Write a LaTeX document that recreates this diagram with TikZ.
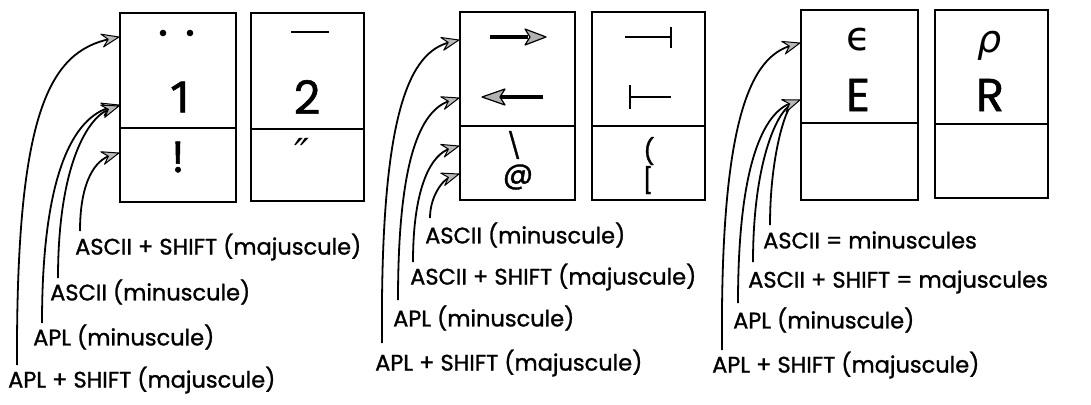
\documentclass[tikz,border=0pt]{standalone}
\usepackage{fontspec}
\setmainfont{Poppins}
\newfontfamily\hand[FakeBold=1.2]{Poppins}
\newfontfamily\digit[FakeBold=1.2]{Fira Sans}
\newfontfamily\grk{DejaVu Sans}
\usetikzlibrary{arrows.meta}
\tikzset{
  keybox/.style={draw, line width=2.2pt, minimum width=#1, inner sep=0pt},
  keybox/.default=114pt,
  divider/.style={line width=1.8pt},
  lbl/.style={anchor=west, inner sep=0pt, font=\hand\fontsize{22.5}{24}\selectfont},
  glyph/.style={inner sep=0pt, font=\hand\fontsize{46}{48}\selectfont},
  mid/.style={inner sep=0pt, font=\hand\fontsize{30}{32}\selectfont},
  tiny/.style={inner sep=0pt, font=\hand\fontsize{25}{27}\selectfont},
  ptr/.style={line width=1.8pt, shorten >=9pt},
  head/.style={fill=gray!60, draw=black, line width=1.2pt, line join=round},
  phead/.pic={\draw[fill=gray!55, draw=black, line width=1pt, line join=round]
     (0,0) -- (-17,6.5) -- (-11,0) -- (-17,-6.5) -- cycle;},
}
\begin{document}
\begin{tikzpicture}[x=1pt,y=-1pt]
\useasboundingbox (0,0) rectangle (1091,404);
% ---------- group 1 ----------
\node[keybox=116pt, minimum height=189pt] (k1) at (178,107.5) {};
\node[keybox=113pt, minimum height=188pt] (k2) at (307.5,107) {};
\draw[divider] (k1.west |- 0,128) -- (k1.east |- 0,128);
\draw[divider] (k2.west |- 0,129) -- (k2.east |- 0,129);
\fill (163,33) circle (3.3pt) (190,33) circle (3.3pt);
\draw[line width=2.8pt] (291,32) -- (329,32);
\node[inner sep=0pt, font=\digit\fontsize{46}{48}\selectfont] (one) at (180,97) {1};
\node[glyph] (two) at (307,97) {2};
\node[glyph, font=\hand\fontsize{44}{46}\selectfont] (excl) at (178,157) {!};
\node[inner sep=0pt, font=\grk\fontsize{40}{42}\selectfont\itshape] (dq) at (302,153) {″};
\node[lbl] (l11) at (75,247) {ASCII + SHIFT (majuscule)};
\node[lbl] (l12) at (50,292) {ASCII (minuscule)};
\node[lbl] (l13) at (33,337) {APL (minuscule)};
\node[lbl] (l14) at (8,380) {APL + SHIFT (majuscule)};
\coordinate (t11) at (80,231);
\coordinate (t12) at (58,278);
\coordinate (t13) at (42,323);
\coordinate (t14) at (17,365);
\coordinate (p14) at (k1.west |- 0,37);
\coordinate (p13) at (k1.west |- 0,105);
\coordinate (p12) at (k1.west |- 0,106);
\coordinate (p11) at (k1.west |- 0,153);
\draw[ptr] (t14) .. controls (16,110) and (50,52) .. (p14);
\draw[ptr] (t13) .. controls (42,170) and (75,117) .. (p13);
\draw[ptr] (t12) .. controls (58,165) and (88,116) .. (p12);
\draw[ptr] (t11) .. controls (80,180) and (96,160) .. (p11);
\pic[rotate=12] at (p14) {phead};
\pic[rotate=15] at (p13) {phead};
\pic[rotate=18] at (p12) {phead};
\pic[rotate=17] at (p11) {phead};
% ---------- group 2 ----------
\node[keybox=115pt, minimum height=188pt] (k3) at (517.5,106) {};
\node[keybox=113pt, minimum height=188pt] (k4) at (648.5,106) {};
\draw[divider] (k3.west |- 0,126) -- (k3.east |- 0,126);
\draw[divider] (k4.west |- 0,126) -- (k4.east |- 0,126);
\draw[line width=4pt] (490,37) -- (528,37);
\draw[head] (546,37) -- (525,29) -- (530,37) -- (525,45) -- cycle;
\draw[line width=4pt] (543,97) -- (500,97);
\draw[head] (482,97) -- (505,89) -- (500,97) -- (505,105) -- cycle;
\draw[line width=2.8pt] (625,37) -- (671,37) (671,27) -- (671,48);
\draw[line width=2.8pt] (630,97) -- (671,97) (630,85) -- (630,109);
\node[tiny] (bs) at (514,145) {\textbackslash};
\node[mid] (at) at (518,177) {@};
\node[tiny] (lp) at (649,151) {(};
\node[tiny] (lb) at (648,180) {[};
\node[lbl] (l21) at (425,235) {ASCII (minuscule)};
\node[lbl] (l22) at (410,277) {ASCII + SHIFT (majuscule)};
\node[lbl] (l23) at (393,318) {APL (minuscule)};
\node[lbl] (l24) at (375,363) {APL + SHIFT (majuscule)};
\coordinate (t21) at (430,218);
\coordinate (t22) at (413,262);
\coordinate (t23) at (398,300);
\coordinate (t24) at (382,343);
\coordinate (p24) at (k3.west |- 0,40);
\coordinate (p23) at (k3.west |- 0,98);
\coordinate (p22) at (k3.west |- 0,146);
\coordinate (p21) at (k3.west |- 0,174);
\draw[ptr] (t24) .. controls (380,110) and (410,52) .. (p24);
\draw[ptr] (t23) .. controls (398,160) and (420,110) .. (p23);
\draw[ptr] (t22) .. controls (413,185) and (432,154) .. (p22);
\draw[ptr] (t21) .. controls (430,197) and (442,180) .. (p21);
\pic[rotate=13] at (p24) {phead};
\pic[rotate=17] at (p23) {phead};
\pic[rotate=16] at (p22) {phead};
\pic[rotate=18] at (p21) {phead};
% ---------- group 3 ----------
\node[keybox=117pt, minimum height=190pt] (k5) at (859.5,105) {};
\node[keybox=113pt, minimum height=188pt] (k6) at (991.5,104) {};
\draw[divider] (k5.west |- 0,123) -- (k5.east |- 0,123);
\draw[divider] (k6.west |- 0,124) -- (k6.east |- 0,124);
\node[inner sep=0pt, font=\grk\fontsize{40}{42}\selectfont] (eps) at (859,40) {ϵ};
\node[glyph] (ee) at (858,95) {E};
\node[inner sep=0pt, font=\grk\fontsize{38}{40}\selectfont\itshape] (rho) at (990,46) {ρ};
\node[glyph] (rr) at (990,95) {R};
\node[lbl] (l31) at (763,240) {ASCII = minuscules};
\node[lbl] (l32) at (748,282) {ASCII + SHIFT = majuscules};
\node[lbl] (l33) at (733,320) {APL (minuscule)};
\node[lbl] (l34) at (712,365) {APL + SHIFT (majuscule)};
\coordinate (t31) at (770,225);
\coordinate (t32) at (753,262);
\coordinate (t33) at (738,303);
\coordinate (t34) at (722,350);
\coordinate (p34) at (k5.west |- 0,43);
\coordinate (p3x) at (k5.west |- 0,100);
\draw[ptr] (t34) .. controls (720,115) and (752,57) .. (p34);
\draw[ptr] (t33) .. controls (738,160) and (765,112) .. (p3x);
\draw[ptr] (t32) .. controls (753,165) and (776,112) .. (p3x);
\draw[ptr] (t31) .. controls (770,155) and (786,108) .. (p3x);
\pic[rotate=16] at (p34) {phead};
\pic[rotate=20] at (p3x) {phead};
\end{tikzpicture}
\end{document}
